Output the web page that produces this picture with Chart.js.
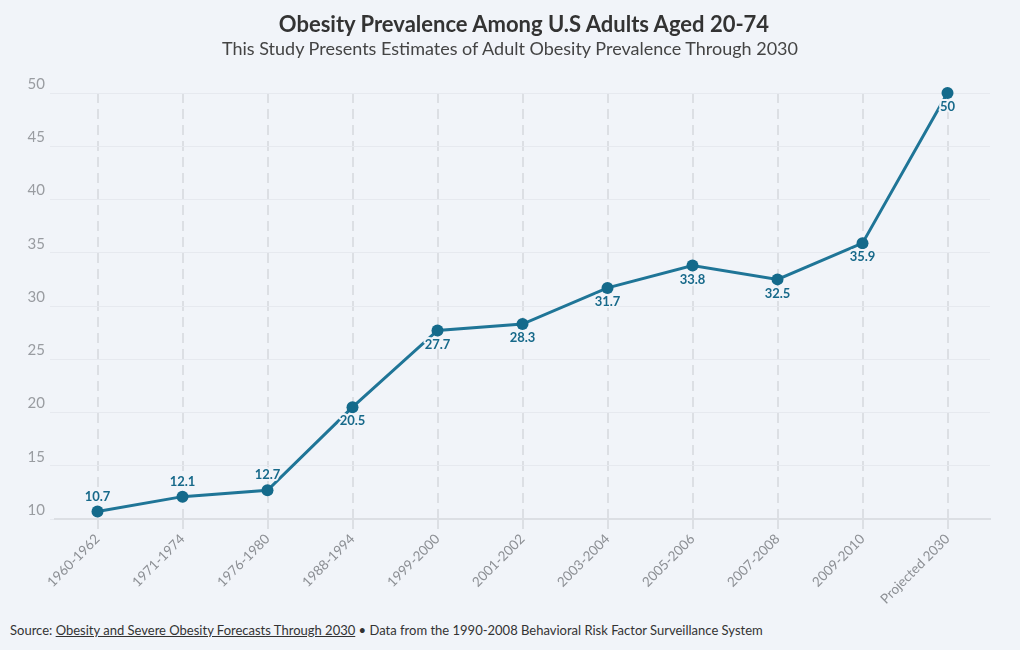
<!DOCTYPE html>
<html>
<head>
<meta charset="utf-8">
<script src="https://cdn.jsdelivr.net/npm/chart.js@4"></script>
<style>
  html, body { margin: 0; padding: 0; background: #f1f4f9; }
  #wrap { position: relative; width: 1020px; height: 650px; background: #f1f4f9; }
  #box { position: absolute; left: 0; top: 0; width: 1020px; height: 615px; }
  .ttl { position: absolute; left: 0; width: 1020px; text-align: center; font-family: Lato, "Noto Sans", sans-serif; white-space: nowrap; }
  #title { top: 10px; font-size: 22px; font-weight: bold; color: #333; line-height: 28px; left: 14px; }
  #subtitle { top: 37px; font-size: 18px; color: #444; line-height: 22px; }
  #source { position: absolute; left: 10px; top: 622px; font-family: Lato, "Noto Sans", sans-serif; font-size: 13px; color: #333; white-space: nowrap; }
  #source u { text-decoration: underline; }
</style>
</head>
<body>
<div id="wrap">
  <div id="box"><canvas id="c"></canvas></div>
  <div class="ttl" id="title">Obesity Prevalence Among U.S Adults Aged 20-74</div>
  <div class="ttl" id="subtitle">This Study Presents Estimates of Adult Obesity Prevalence Through 2030</div>
  <div id="source">Source: <u>Obesity and Severe Obesity Forecasts Through 2030</u> • Data from the 1990-2008 Behavioral Risk Factor Surveillance System</div>
</div>
<script>
const periods = ["1960-1962", "1971-1974", "1976-1980", "1988-1994", "1999-2000", "2001-2002", "2003-2004", "2005-2006", "2007-2008", "2009-2010", "Projected 2030"];
const prevalence = [10.7, 12.1, 12.7, 20.5, 27.7, 28.3, 31.7, 33.8, 32.5, 35.9, 50];
const labelAbove = [true, true, true, false, false, false, false, false, false, false, false];
const yTicks = [10, 15, 20, 25, 30, 35, 40, 45, 50];

const BG = '#f1f4f9';
const FONT = 'Lato, "Noto Sans", sans-serif';

const bgPlugin = {
  id: 'bg',
  beforeDraw(chart) {
    const ctx = chart.ctx;
    ctx.save();
    ctx.fillStyle = BG;
    ctx.fillRect(0, 0, chart.width, chart.height);
    ctx.restore();
  }
};

const labelPlugin = {
  id: 'pointLabels',
  afterDatasetsDraw(chart) {
    const ctx = chart.ctx;
    const meta = chart.getDatasetMeta(0);
    ctx.save();
    ctx.font = 'bold 13px ' + FONT;
    ctx.textAlign = 'center';
    ctx.textBaseline = 'middle';
    ctx.lineJoin = 'round';
    meta.data.forEach((pt, i) => {
      const txt = String(prevalence[i]);
      const y = pt.y + (labelAbove[i] ? -15 : 14);
      ctx.strokeStyle = BG;
      ctx.lineWidth = 4;
      ctx.strokeText(txt, pt.x, y);
      ctx.fillStyle = '#17698a';
      ctx.fillText(txt, pt.x, y);
    });
    ctx.restore();
  }
};

new Chart(document.getElementById('c'), {
  type: 'line',
  data: {
    labels: periods,
    datasets: [{
      data: prevalence,
      borderColor: '#1f7597',
      backgroundColor: '#146a8b',
      borderWidth: 3,
      pointRadius: 6,
      pointHoverRadius: 6,
      pointBackgroundColor: '#146a8b',
      pointBorderWidth: 0,
      tension: 0,
      clip: false
    }]
  },
  options: {
    responsive: true,
    maintainAspectRatio: false,
    animation: false,
    layout: { padding: { left: 0, right: 30, top: 93, bottom: 0 } },
    plugins: {
      legend: { display: false },
      tooltip: { enabled: false },
      title: { display: false },
      subtitle: { display: false }
    },
    scales: {
      x: {
        offset: true,
        grid: {
          display: true,
          color: '#dcdfe4',
          lineWidth: 2,
          tickLength: 10,
          offset: false
        },
        border: { display: true, color: '#dcdfe4', width: 2, dash: [10, 6] },
        ticks: {
          color: '#8c8f94',
          font: { family: FONT, size: 13.5 },
          minRotation: 45,
          maxRotation: 45,
          autoSkip: false,
          padding: 2
        },
        afterFit(scale) { scale.height = 96; }
      },
      y: {
        min: 10,
        max: 50,
        afterBuildTicks(scale) { scale.ticks = yTicks.map(v => ({ value: v })); },
        grid: { color: '#e6e9ef', lineWidth: 1, tickLength: 5 },
        border: { display: false },
        ticks: {
          color: '#999ca1',
          font: { family: FONT, size: 15 },
          padding: 5,
          labelOffset: -9
        },
        afterFit(scale) { scale.width = 55; }
      }
    }
  },
  plugins: [bgPlugin, labelPlugin]
});
</script>
</body>
</html>
